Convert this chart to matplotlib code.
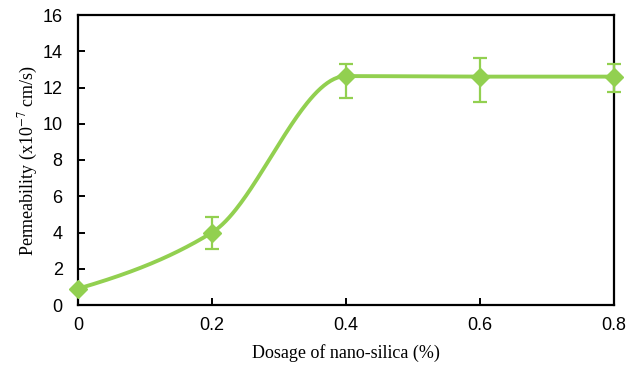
import numpy as np
import matplotlib
matplotlib.use('Agg')
import matplotlib.pyplot as plt

# nano-silica dosage vs permeability
dosage = [0.0, 0.2, 0.4, 0.6, 0.8]
permeability = [0.9, 4.0, 12.63, 12.6, 12.6]
err_low = [0.0, 0.9, 1.23, 1.4, 0.85]
err_high = [0.0, 0.85, 0.65, 1.05, 0.7]

GREEN = '#92D050'


def smooth_curve(x, y, n=80):
    """Monotone cubic Hermite through the points (harmonic-mean slopes)."""
    x = np.asarray(x, float)
    y = np.asarray(y, float)
    h = np.diff(x)
    d = np.diff(y) / h
    m = np.zeros_like(y)
    for i in range(1, len(y) - 1):
        if d[i - 1] * d[i] > 0:
            w1 = 2 * h[i] + h[i - 1]
            w2 = h[i] + 2 * h[i - 1]
            m[i] = (w1 + w2) / (w1 / d[i - 1] + w2 / d[i])
    m[0] = 0.7 * d[0]
    m[-1] = 0.7 * d[-1]
    xs, ys = [], []
    for i in range(len(h)):
        t = np.linspace(0, 1, n)
        h00 = 2 * t ** 3 - 3 * t ** 2 + 1
        h10 = t ** 3 - 2 * t ** 2 + t
        h01 = -2 * t ** 3 + 3 * t ** 2
        h11 = t ** 3 - t ** 2
        xs.append(x[i] + t * h[i])
        ys.append(h00 * y[i] + h10 * h[i] * m[i] + h01 * y[i + 1] + h11 * h[i] * m[i + 1])
    return np.concatenate(xs), np.concatenate(ys)


plt.rcParams['mathtext.fontset'] = 'stix'

fig = plt.figure(figsize=(6.41, 3.67), dpi=100)
ax = fig.add_axes([78 / 641, 1 - 305 / 367, 536 / 641, 290 / 367])

sx, sy = smooth_curve(dosage, permeability)
ax.plot(sx, sy, color=GREEN, lw=2.8, zorder=3, clip_on=False, solid_capstyle='round')
ax.errorbar(dosage, permeability, yerr=[err_low, err_high], fmt='D', color=GREEN,
            ms=9.5, elinewidth=1.6, capsize=5, capthick=1.6, zorder=4, clip_on=False)

ax.set_xlim(0, 0.8)
ax.set_ylim(0, 16)
ax.set_xticks([0, 0.2, 0.4, 0.6, 0.8])
ax.set_xticklabels(['0', '0.2', '0.4', '0.6', '0.8'])
ax.set_yticks(range(0, 17, 2))

for s in ax.spines.values():
    s.set_linewidth(1.6)
    s.set_color('black')
ax.tick_params(direction='in', length=5, width=1.4, labelsize=13)
ax.tick_params(axis='x', pad=9)
ax.tick_params(axis='y', pad=11)
for lbl in ax.get_xticklabels() + ax.get_yticklabels():
    lbl.set_fontfamily('Liberation Sans')

ax.set_xlabel('Dosage of nano-silica (%)', fontsize=13, family='Liberation Serif', labelpad=7)
ax.set_ylabel('Permeability (x10$^{-7}$ cm/s)', fontsize=13, family='Liberation Serif', labelpad=2)

fig.savefig('out.png', dpi=100)
